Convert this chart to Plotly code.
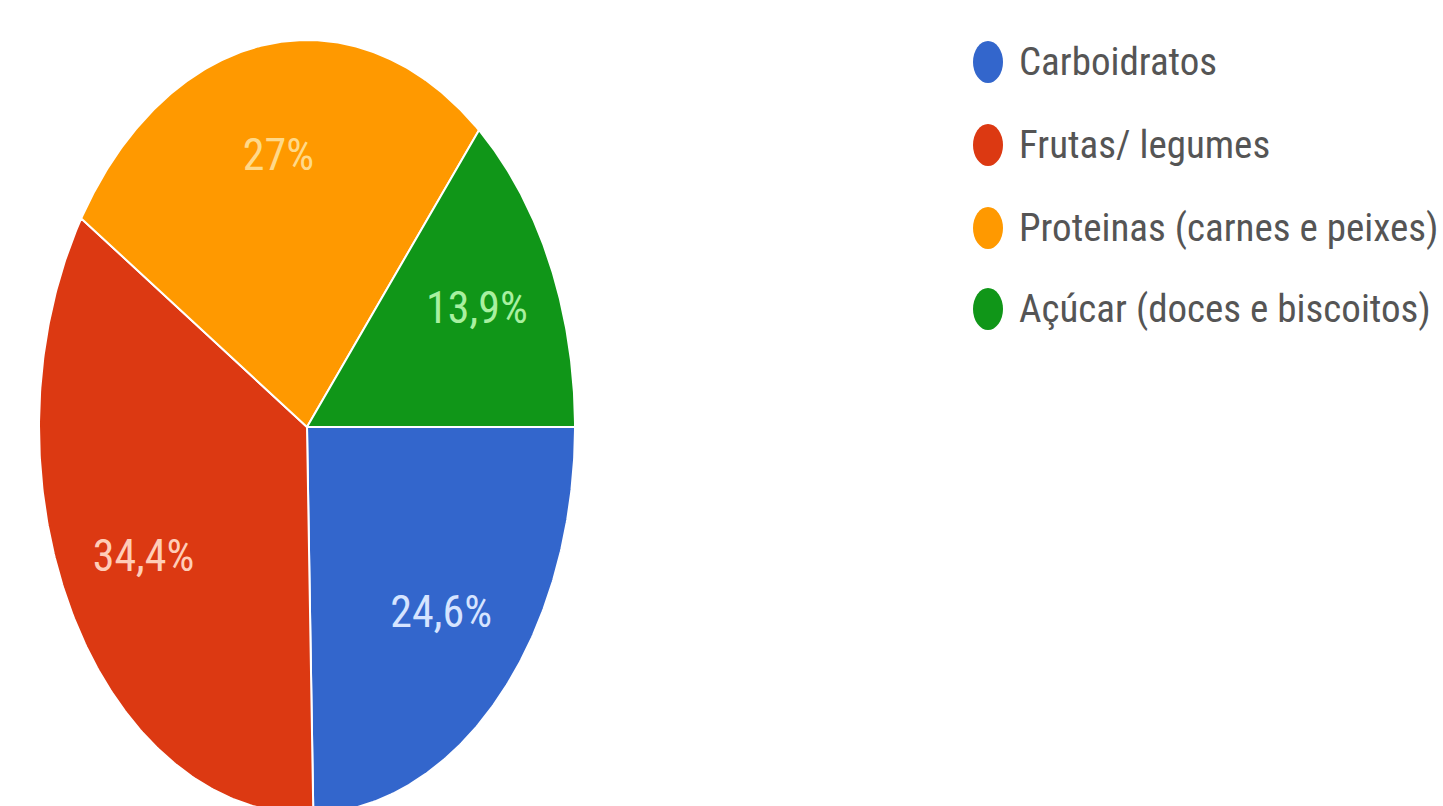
import numpy as np
import plotly.graph_objects as go

# --- data -------------------------------------------------------------
categories = ["Carboidratos", "Frutas/ legumes", "Proteinas (carnes e peixes)", "Açúcar (doces e biscoitos)"]
values = [24.6, 34.4, 27.0, 13.9]
colors = ["#3366cc", "#dc3912", "#ff9900", "#109618"]
label_colors = ["#d6e4ff", "#ffcdb8", "#ffd98a", "#a8f0a0"]

FONT = "Liberation Sans Narrow, Roboto Condensed, DejaVu Sans Condensed, Roboto, sans-serif"

# --- geometry (page pixels) -------------------------------------------
W, H = 1443, 806
CX, CY = 307, 427          # pie centre
RX, RY = 268, 387          # horizontal / vertical radius (stretched pie)

# axes: one unit = one radius, so the pie is a unit circle in data space
x_range = [(0 - CX) / RX, (W - CX) / RX]
y_range = [(CY - H) / RY, (CY - 0) / RY]


def px_to_x(px):
    return (px - CX) / RX


def py_to_y(py):
    return (CY - py) / RY


def fmt_pct(v):
    s = f"{v:.1f}".replace(".", ",")
    if s.endswith(",0"):
        s = s[:-2]
    return s + "%"


fig = go.Figure()

total = sum(values)
start = 0.0  # clockwise from 3 o'clock, in degrees
lab_x, lab_y, lab_t = [], [], []
for cat, val, col in zip(categories, values, colors):
    sweep = 360.0 * val / total
    th = np.radians(np.linspace(start, start + sweep, 200))
    xs = np.concatenate([[0.0], np.cos(th), [0.0]])
    ys = np.concatenate([[0.0], -np.sin(th), [0.0]])
    fig.add_trace(go.Scatter(
        x=xs, y=ys, mode="lines", fill="toself", fillcolor=col,
        line=dict(color="white", width=2), name=cat, hoverinfo="name",
        showlegend=False,
    ))
    mid = np.radians(start + sweep / 2)
    lab_x.append(0.70 * np.cos(mid))
    lab_y.append(-0.70 * np.sin(mid))
    lab_t.append(fmt_pct(val))
    start += sweep

fig.add_trace(go.Scatter(
    x=lab_x, y=lab_y, mode="text", text=lab_t,
    textfont=dict(family=FONT, size=44, color=label_colors),
    hoverinfo="skip", showlegend=False,
))

# --- legend -----------------------------------------------------------
leg_y = [62, 145, 228, 309]
leg_mx, leg_tx = 988, 1017
mw, mh = 30, 42
shapes = []
annotations = []
for cat, col, ly in zip(categories, colors, leg_y):
    shapes.append(dict(
        type="circle", xref="x", yref="y",
        x0=px_to_x(leg_mx - mw / 2), x1=px_to_x(leg_mx + mw / 2),
        y0=py_to_y(ly + mh / 2), y1=py_to_y(ly - mh / 2),
        fillcolor=col, line=dict(width=0),
    ))
    annotations.append(dict(
        x=px_to_x(leg_tx), y=py_to_y(ly), xref="x", yref="y",
        text=cat, showarrow=False, xanchor="left", yanchor="middle",
        font=dict(family=FONT, size=39, color="#555555"),
    ))

fig.update_layout(
    width=W, height=H,
    margin=dict(l=0, r=0, t=0, b=0),
    paper_bgcolor="white", plot_bgcolor="white",
    xaxis=dict(range=x_range, visible=False, fixedrange=True),
    yaxis=dict(range=y_range, visible=False, fixedrange=True),
    shapes=shapes, annotations=annotations,
    showlegend=False,
)

fig.write_html("out.html", config={"displayModeBar": False})
